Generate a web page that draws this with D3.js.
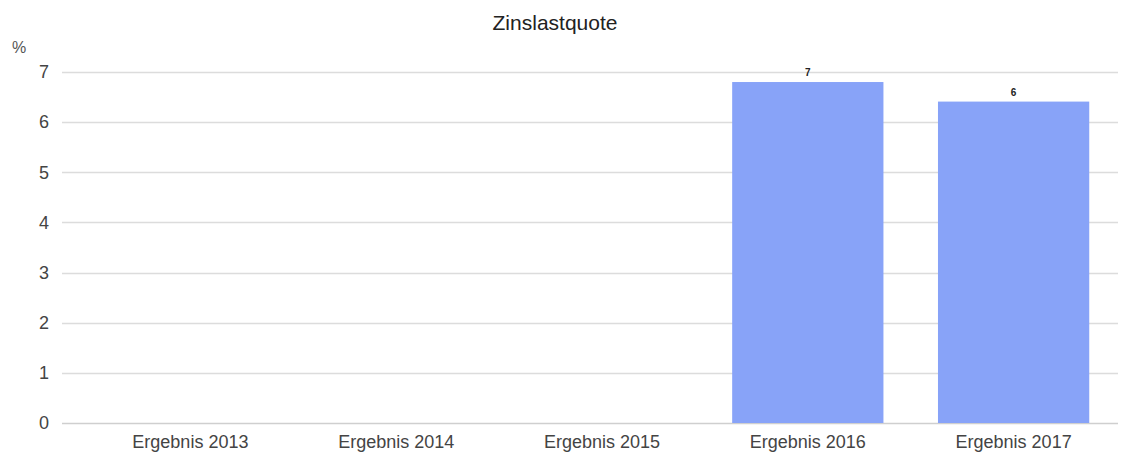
<!DOCTYPE html>
<html>
<head>
<meta charset="utf-8">
<script src="https://cdn.jsdelivr.net/npm/d3@7"></script>
<style>
  body { margin: 0; background: #fff; }
  text { font-family: "Liberation Sans", Arial, sans-serif; }
</style>
</head>
<body>
<div id="chart"><svg></svg></div>
<script>
var categories = ["Ergebnis 2013", "Ergebnis 2014", "Ergebnis 2015", "Ergebnis 2016", "Ergebnis 2017"];
var values = [null, null, null, 6.8, 6.41];
var yTicks = [0, 1, 2, 3, 4, 5, 6, 7];

var width = 1131,
    height = 452,
    margin = {top: 72, right: 15, bottom: 29, left: 88};

var svg = d3.select('#chart svg')
    .attr('width', width)
    .attr('height', height);

var x = d3.scaleBand()
    .domain(categories)
    .range([margin.left, width - margin.right])
    .paddingInner(0.265)
    .paddingOuter(0.13);

var y = d3.scaleLinear()
    .domain([0, 7])
    .range([height - margin.bottom, margin.top]);

// gridlines, they start further left than the bands
svg.append('g')
    .selectAll('line')
    .data(yTicks)
    .enter()
    .append('line')
        .attr('x1', 62)
        .attr('x2', 1118)
        .attr('y1', d => Math.round(y(d)) + 0.5)
        .attr('y2', d => Math.round(y(d)) + 0.5)
        .style('stroke', d => d === 0 ? '#cfcfcf' : '#dcdcdc')
        .style('stroke-width', 1.3);

// y axis labels
var yAxis = d3.axisLeft(y).tickValues(yTicks).tickSize(0).tickPadding(0).tickFormat(d3.format('d'));
var gy = svg.append('g')
    .attr('transform', 'translate(49,0)')
    .call(yAxis);
gy.select('.domain').remove();
gy.selectAll('text')
    .style('font-size', '18px')
    .style('fill', '#444');

// x axis labels
var xAxis = d3.axisBottom(x).tickSize(0).tickPadding(12);
var gx = svg.append('g')
    .attr('transform', 'translate(0,' + (height - margin.bottom) + ')')
    .call(xAxis);
gx.select('.domain').remove();
gx.selectAll('text')
    .style('font-size', '18px')
    .style('fill', '#444');

var data = categories.map(function(c, i) { return {cat: c, value: values[i]}; })
    .filter(d => d.value != null);

svg.selectAll('rect.bar')
    .data(data)
    .enter()
    .append('rect')
        .attr('class', 'bar')
        .attr('x', d => x(d.cat))
        .attr('width', x.bandwidth())
        .attr('y', d => y(d.value))
        .attr('height', d => y(0) - y(d.value))
        .style('fill', '#88a3f8');

svg.selectAll('text.val')
    .data(data)
    .enter()
    .append('text')
        .attr('class', 'val')
        .attr('x', d => x(d.cat) + x.bandwidth() / 2)
        .attr('y', d => y(d.value) - 6)
        .attr('text-anchor', 'middle')
        .style('font-size', '10px')
        .style('font-weight', 'bold')
        .style('fill', '#222')
        .text(d => Math.round(d.value));

// title and unit
svg.append('text')
    .attr('x', 555)
    .attr('y', 30)
    .attr('text-anchor', 'middle')
    .style('font-size', '21px')
    .style('fill', '#222')
    .text('Zinslastquote');

svg.append('text')
    .attr('x', 12)
    .attr('y', 53)
    .style('font-size', '16px')
    .style('fill', '#555')
    .text('%');
</script>
</body>
</html>
